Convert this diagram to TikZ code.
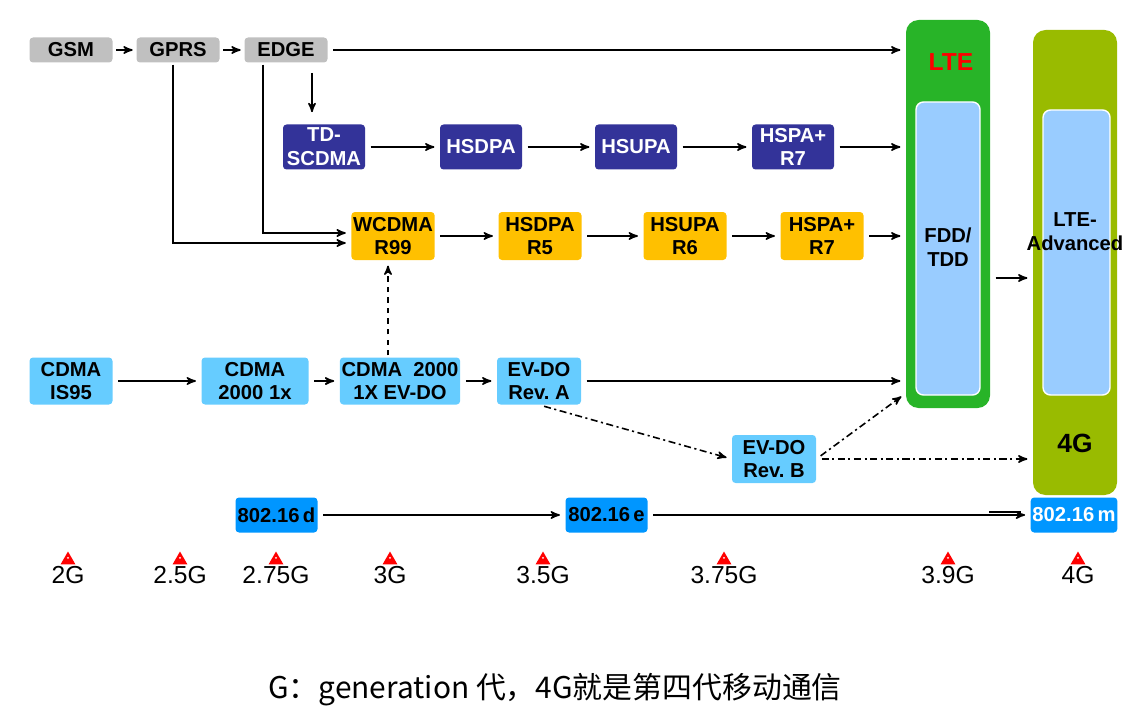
\documentclass[tikz,border=0pt]{standalone}
\usepackage{fontspec}
\setmainfont{Liberation Sans}
\newfontfamily\cjkfont{Noto Sans CJK SC}
\usepackage{tikz}
\usetikzlibrary{arrows}
\usetikzlibrary{positioning}
\usetikzlibrary{shapes.geometric}

\definecolor{gsmgray}{RGB}{192,192,192}
\definecolor{tdblue}{RGB}{51,51,153}
\definecolor{wcyellow}{RGB}{255,192,0}
\definecolor{cdblue}{RGB}{102,204,255}
\definecolor{wmblue}{RGB}{0,150,255}
\definecolor{ltegreen}{RGB}{40,180,40}
\definecolor{advolive}{RGB}{153,187,0}
\definecolor{innerblue}{RGB}{153,204,255}

\begin{document}
\begin{tikzpicture}[node distance=10mm,on grid,>=stealth',
		box/.style={rectangle,rounded corners=2pt,inner sep=1pt,align=center,
			font=\bfseries\fontsize{11.5}{13.5}\selectfont},
		gsmbox/.style={box,fill=gsmgray,minimum width=1.66cm,minimum height=0.5cm},
		tdbox/.style={box,fill=tdblue,text=white,minimum width=1.64cm,minimum height=0.9cm},
		wcbox/.style={box,fill=wcyellow,minimum width=1.66cm,minimum height=0.96cm},
		cdbox/.style={box,fill=cdblue,minimum height=0.94cm},
		wmbox/.style={box,fill=wmblue,minimum width=1.64cm,minimum height=0.7cm},
		column/.style={rectangle,rounded corners=0.25cm,minimum width=1.68cm},
		innerbox/.style={rectangle,rounded corners=0.15cm,fill=innerblue,draw=white,line width=0.8pt},
		gtri/.style={regular polygon,regular polygon sides=3,fill=red,inner sep=0pt,
			minimum size=0.34cm,label distance=0.06cm,
			path picture={\fill[white] (path picture bounding box.center) circle (0.6pt);}},
		glbl/.style={inner sep=1pt,font=\fontsize{14}{16}\selectfont},
		link/.style={->,line width=0.9pt,shorten >=3pt,shorten <=3pt},
		dashdot/.style={dash pattern=on 4pt off 2pt on 1.2pt off 2pt}]
		\useasboundingbox (0,0) rectangle (22.64,-14.38);

		% LTE and LTE-Advanced columns
		\node[column,fill=ltegreen,minimum height=7.76cm] (lte) at (18.96,-4.28) {};
		\node[innerbox,minimum width=1.28cm,minimum height=5.86cm] (fdd) at (18.96,-4.97) {};
		\node[box] (fddlbl) at (18.96,-4.94) {FDD/\\TDD};
		\node[font=\bfseries\fontsize{14}{16}\selectfont,text=red] (ltelbl) at (19.02,-1.24) {LTE};
		\node[column,fill=advolive,minimum height=9.3cm] (lteadv) at (21.5,-5.25) {};
		\node[innerbox,minimum width=1.34cm,minimum height=5.7cm] (advin) at (21.53,-5.05) {};
		\node[box] (advlbl) at (21.5,-4.64) {LTE-\\Advanced};
		\node[font=\bfseries\fontsize{15}{17}\selectfont] (adv4g) at (21.5,-8.86) {4G};

		% GSM line
		\node[gsmbox] (gsm) at (1.42,-1) {GSM};
		\node[gsmbox] (gprs) [right=2.14cm of gsm] {GPRS};
		\node[gsmbox] (edgeb) [right=2.16cm of gprs] {EDGE};

		\node[tdbox] (tdscdma) [below right=1.94cm and 0.76cm of edgeb] {TD-\\SCDMA};
		\node[tdbox] (hsdpa) [right=3.14cm of tdscdma] {HSDPA};
		\node[tdbox] (hsupa) [right=3.1cm of hsdpa] {HSUPA};
		\node[tdbox] (hspa) [right=3.14cm of hsupa] {HSPA+\\R7};

		\node[wcbox] (wcdma) [below right=1.78cm and 1.38cm of tdscdma] {WCDMA\\R99};
		\node[wcbox] (hsdpafive) [right=2.94cm of wcdma] {HSDPA\\R5};
		\node[wcbox] (hsupasix) [right=2.9cm of hsdpafive] {HSUPA\\R6};
		\node[wcbox] (hspaseven) [right=2.74cm of hsupasix] {HSPA+\\R7};

		% CDMA line
		\node[cdbox,minimum width=1.66cm] (is95) [below=6.62cm of gsm] {CDMA\\IS95};
		\node[cdbox,minimum width=2.14cm] (cdma1x) [right=3.68cm of is95] {CDMA\\2000 1x};
		\node[cdbox,minimum width=2.16cm] (evdo) [right=2.9cm of cdma1x] {CDMA\ \ 2000\\1X EV-DO};
		\node[cdbox,minimum width=1.68cm] (reva) [right=2.78cm of evdo] {EV-DO\\Rev.\ A};
		\node[cdbox,minimum width=1.68cm,minimum height=0.96cm] (revb) [below right=1.56cm and 4.7cm of reva] {EV-DO\\Rev.\ B};

		% WiMAX line
		\node[wmbox] (wmd) [below right=2.68cm and 0.43cm of cdma1x] {802.16\,d};
		\node[wmbox] (wme) [right=6.6cm of wmd] {802.16\,e};
		\node[wmbox,text=white,minimum width=1.62cm] (wmm) [right=9.35cm of wme] {802.16\,m};

		\path[link]
		(gsm) edge[shorten >=2pt,shorten <=2pt] (gprs)
		(gprs) edge[shorten >=2pt,shorten <=2pt] (edgeb)
		(edgeb) edge (edgeb -| lte.west)
		(tdscdma) edge (hsdpa)
		(hsdpa) edge (hsupa)
		(hsupa) edge (hspa)
		(hspa) edge (hspa -| lte.west)
		(wcdma) edge (hsdpafive)
		(hsdpafive) edge (hsupasix)
		(hsupasix) edge (hspaseven)
		(hspaseven) edge (hspaseven -| lte.west)
		(is95) edge (cdma1x)
		(cdma1x) edge (evdo)
		(evdo) edge (reva)
		(reva) edge (reva -| lte.west)
		([xshift=-0.1cm]wcdma.south |- evdo.north) edge[dashed,shorten <=1pt] ([xshift=-0.1cm]wcdma.south)
		(reva.south) edge[dashdot] (revb.west)
		(revb.east) edge[dashdot] ([yshift=0.3cm]lte.south west)
		(revb.east) edge[dashdot] (revb.east -| lteadv.west)
		(wmd) edge (wme)
		(wme) edge (wmm);

		\draw[link,shorten <=0.2cm,shorten >=0.24cm] ([xshift=0.52cm]edgeb.south) -- ([xshift=0.52cm]edgeb.south |- tdscdma.north);
		\draw[link,shorten <=1pt] ([xshift=-0.1cm]gprs.south) |- ([yshift=-0.14cm]wcdma.west);
		\draw[link,shorten <=1pt] ([xshift=-0.46cm]edgeb.south) |- ([yshift=0.06cm]wcdma.west);
		\draw[link] ([yshift=-1.28cm]lte.east) -- ([yshift=-1.28cm]lte.east -| lteadv.west);
		\draw[line width=0.8pt] ([xshift=-0.82cm,yshift=0.06cm]wmm.west) -- ([xshift=-0.18cm,yshift=0.06cm]wmm.west);

		% generations
		\node[gtri,label={[glbl]below:2G}] (g20) at (1.36,-11.2) {};
		\node[gtri,label={[glbl]below:2.5G}] (g25) at (3.6,-11.2) {};
		\node[gtri,label={[glbl]below:2.75G}] (g275) at (5.52,-11.2) {};
		\node[gtri,label={[glbl]below:3G}] (g30) at (7.8,-11.2) {};
		\node[gtri,label={[glbl]below:3.5G}] (g35) at (10.86,-11.2) {};
		\node[gtri,label={[glbl]below:3.75G}] (g375) at (14.48,-11.2) {};
		\node[gtri,label={[glbl]below:3.9G}] (g39) at (18.96,-11.2) {};
		\node[gtri,label={[glbl]below:4G}] (g40) at (21.56,-11.2) {};

		\node[font=\cjkfont\fontsize{17}{20}\selectfont] (caption) at (11.1,-13.8) {G：generation 代，4G就是第四代移动通信};
\end{tikzpicture}
\end{document}
